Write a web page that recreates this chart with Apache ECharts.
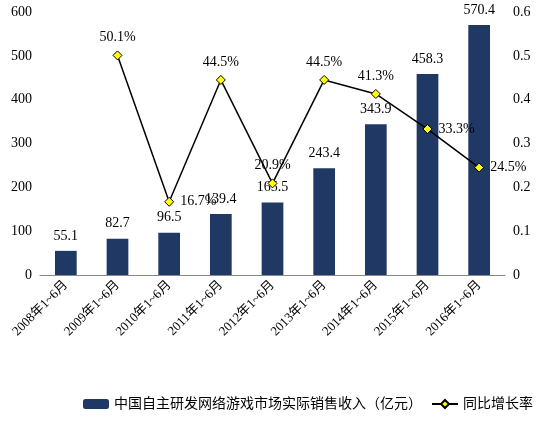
<!DOCTYPE html>
<html><head><meta charset="utf-8">
<script src="https://cdn.jsdelivr.net/npm/echarts@6/dist/echarts.min.js"></script>
<style>html,body{margin:0;background:#fff}#c{width:550px;height:438px}</style>
</head><body><div id="c"></div>
<script>
const categories=["2008年1~6月","2009年1~6月","2010年1~6月","2011年1~6月","2012年1~6月","2013年1~6月","2014年1~6月","2015年1~6月","2016年1~6月"];
const revenue=[55.1,82.7,96.5,139.4,165.5,243.4,343.9,458.3,570.4];
const growth=[null,0.501,0.167,0.445,0.209,0.445,0.413,0.333,0.245];
const labelPos=['top','top','right','top','top','top','top','right','right'];
const font='"Liberation Serif","Noto Sans CJK SC",serif';
const chart=echarts.init(document.getElementById('c'));
chart.setOption({
 textStyle:{fontFamily:font},
 grid:{left:40,right:45,top:12,bottom:163},
 legend:{orient:'vertical',left:78,top:392,itemGap:10,itemWidth:26,itemHeight:10,
  textStyle:{fontSize:14,color:'#000',fontFamily:font},
  data:['中国自主研发网络游戏市场实际销售收入（亿元）','同比增长率']},
 xAxis:{type:'category',data:categories,axisTick:{show:false},
  axisLine:{lineStyle:{color:'#888'}},
  axisLabel:{rotate:45,interval:0,fontSize:13,color:'#000',fontFamily:font}},
 yAxis:[{type:'value',min:0,max:600,interval:100,splitLine:{show:false},
   axisLabel:{fontSize:14,color:'#000'},axisLine:{show:false}},
  {type:'value',min:0,max:0.6,interval:0.1,splitLine:{show:false},
   axisLabel:{fontSize:14,color:'#000'},axisLine:{show:false}}],
 series:[
  {name:'中国自主研发网络游戏市场实际销售收入（亿元）',type:'bar',data:revenue,barWidth:'42%',
   itemStyle:{color:'#1f3864'},
   label:{show:true,position:'top',fontSize:14,color:'#000',distance:8}},
  {name:'同比增长率',type:'line',yAxisIndex:1,
   data:growth.map((v,i)=>({value:v,label:{position:labelPos[i]}})),
   symbol:'diamond',symbolSize:9,
   lineStyle:{color:'#000',width:1.5},itemStyle:{color:'#ffff00',borderColor:'#000',borderWidth:1},
   label:{show:true,fontSize:14,color:'#000',distance:6,
    formatter:p=>(p.value*100).toFixed(1)+'%'}}
 ]
});
</script></body></html>
